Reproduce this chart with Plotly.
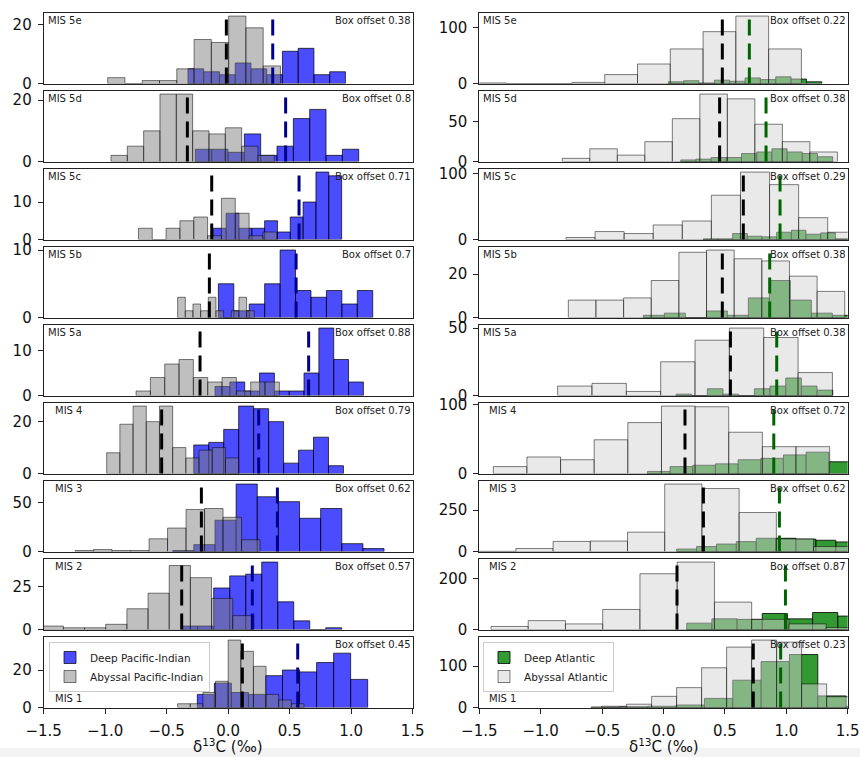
import plotly.graph_objects as go

# ---------------- data ----------------
stages = ["MIS 5e", "MIS 5d", "MIS 5c", "MIS 5b", "MIS 5a", "MIS 4", "MIS 3", "MIS 2", "MIS 1"]
pi_offsets = ["0.38", "0.8", "0.71", "0.7", "0.88", "0.79", "0.62", "0.57", "0.45"]
atl_offsets = ["0.22", "0.38", "0.29", "0.38", "0.38", "0.72", "0.62", "0.87", "0.23"]

# Deep Pacific-Indian histograms: first bin edge, bin width, counts
pi_deep_start = [-0.327, -0.267, -0.121, -0.080, -0.107, -0.280, -0.451, -0.378, -0.251]
pi_deep_width = [0.128, 0.1328, 0.1043, 0.1255, 0.1206, 0.1217, 0.1718, 0.1301, 0.1385]
pi_deep_counts = [
    [5, 4, 3, 7, 5, 3, 11, 12, 3, 4],
    [4, 4, 3, 9, 2, 5, 14, 17, 2, 4],
    [3, 7, 3, 3, 5, 2, 6, 10, 18, 17],
    [5, 1, 2, 5, 10, 4, 3, 4, 2, 4],
    [2, 3, 1, 5, 1, 1, 5, 15, 8, 3],
    [11, 12, 17, 26, 25, 20, 4, 9, 14, 3],
    [1, 7, 32, 69, 56, 51, 34, 44, 8, 3],
    [2, 2, 24, 31, 32, 39, 16, 5, 0, 1],
    [7, 13, 8, 7, 17, 20, 19, 24, 29, 15],
]
# Abyssal Pacific-Indian histograms
pi_aby_start = [-0.980, -0.953, -0.730, -0.411, -0.749, -0.988, -1.245, -1.512, -0.411]
pi_aby_width = [0.1405, 0.1328, 0.1125, 0.0623, 0.1165, 0.1073, 0.1504, 0.1721, 0.1027]
pi_aby_counts = [
    [2, 0, 1, 1, 5, 15, 14, 23, 19, 6],
    [2, 5, 10, 22, 22, 10, 9, 11, 5, 2],
    [3, 0, 3, 5, 6, 1, 11, 7, 1, 2],
    [3, 1, 2, 1, 3, 1, 0, 1, 3, 1],
    [1, 4, 7, 8, 4, 3, 4, 1, 3, 3],
    [8, 19, 26, 20, 26, 10, 6, 9, 10, 6],
    [1, 2, 1, 1, 13, 24, 43, 44, 35, 12],
    [2, 1, 1, 3, 12, 21, 37, 30, 18, 8],
    [2, 2, 8, 14, 36, 30, 22, 7, 4, 2],
]
pi_deep_mean = [0.362, 0.467, 0.576, 0.552, 0.654, 0.248, 0.400, 0.196, 0.565]
pi_aby_mean = [-0.015, -0.332, -0.134, -0.153, -0.229, -0.541, -0.218, -0.378, 0.115]

# Deep Atlantic histograms
atl_deep_start = [0.039, 0.140, 0.324, -0.164, 0.102, -0.131, 0.107, 0.189, -0.590]
atl_deep_width = [0.125, 0.1238, 0.1195, 0.171, 0.1276, 0.1846, 0.162, 0.205, 0.2308]
atl_deep_counts = [
    [3, 5, 1, 6, 4, 10, 7, 12, 8, 3],
    [2, 3, 5, 5, 10, 12, 16, 12, 10, 6],
    [1, 1, 9, 5, 4, 11, 14, 8, 10, 1],
    [1, 2, 0, 3, 1, 9, 17, 8, 2, 1],
    [1, 0, 5, 1, 0, 5, 7, 13, 7, 4],
    [3, 10, 12, 14, 20, 22, 27, 31, 17],
    [15, 30, 45, 60, 80, 80, 75, 68, 58],
    [25, 42, 40, 63, 42, 67, 53],
    [1, 2, 3, 6, 22, 66, 111, 128, 28, 3],
]
# Abyssal Atlantic histograms
atl_aby_start = [-1.546, -0.824, -0.794, -0.775, -0.862, -1.386, -1.505, -1.405, -0.504]
atl_aby_width = [0.2669, 0.224, 0.2368, 0.2251, 0.2797, 0.2739, 0.303, 0.3033, 0.2036]
atl_aby_counts = [
    [1, 0, 0, 2, 16, 35, 62, 93, 121, 62],
    [4, 16, 8, 25, 54, 85, 79, 47, 25, 12],
    [3, 12, 9, 22, 28, 67, 102, 83, 33, 11],
    [8, 8, 9, 17, 30, 31, 27, 26, 19, 12],
    [7, 9, 3, 25, 41, 50, 43, 17],
    [10, 24, 20, 49, 74, 98, 97, 60, 39, 39],
    [1, 18, 61, 63, 117, 408, 381, 236, 76, 30],
    [12, 35, 22, 79, 220, 266, 108, 40, 22, 8],
    [3, 8, 27, 48, 96, 146, 163, 158, 57, 26],
]
atl_deep_mean = [0.699, 0.835, 0.949, 0.865, 0.922, 0.898, 0.944, 0.993, 0.954]
atl_aby_mean = [0.479, 0.457, 0.650, 0.479, 0.545, 0.175, 0.325, 0.110, 0.731]

pi_yticks = [[0, 20], [0, 20], [0, 10], [0, 10], [0, 10], [0, 20], [0, 50], [0, 25], [0, 20]]
atl_yticks = [[0, 100], [0, 50], [0, 100], [0, 20], [0, 50], [0, 100], [0, 250], [0, 200], [0, 100]]

x_ticks = [-1.5, -1.0, -0.5, 0.0, 0.5, 1.0, 1.5]
x_ticktext = ["\u22121.5", "\u22121.0", "\u22120.5", "0.0", "0.5", "1.0", "1.5"]

# ---------------- layout geometry ----------------
W, H = 860, 757
col_x = [(43.7, 412.7), (479.3, 847.7)]
row_top0, row_pitch, row_h = 12.7, 78.0, 70.8
FONT = "DejaVu Sans"

fig = go.Figure()
layout = dict(
    width=W, height=H, autosize=False,
    margin=dict(l=0, r=0, t=0, b=0, autoexpand=False),
    paper_bgcolor="white", plot_bgcolor="white",
    barmode="overlay", font=dict(family=FONT, color="black"),
    showlegend=True,
)
shapes = []
annotations = []

cols = [
    dict(deep_start=pi_deep_start, deep_width=pi_deep_width, deep_counts=pi_deep_counts,
         aby_start=pi_aby_start, aby_width=pi_aby_width, aby_counts=pi_aby_counts,
         deep_mean=pi_deep_mean, aby_mean=pi_aby_mean, offsets=pi_offsets, yticks=pi_yticks,
         deep_fill="rgba(0,0,255,0.7)", deep_line="rgba(0,0,0,0.7)",
         aby_fill="rgba(128,128,128,0.5)", aby_line="rgba(0,0,0,0.5)",
         mean_color="#00008b", deep_name="Deep Pacific-Indian", aby_name="Abyssal Pacific-Indian",
         legend="legend", mis_x=[0.006, 0.006, 0.006, 0.006, 0.006, 0.024, 0.024, 0.024, 0.024]),
    dict(deep_start=atl_deep_start, deep_width=atl_deep_width, deep_counts=atl_deep_counts,
         aby_start=atl_aby_start, aby_width=atl_aby_width, aby_counts=atl_aby_counts,
         deep_mean=atl_deep_mean, aby_mean=atl_aby_mean, offsets=atl_offsets, yticks=atl_yticks,
         deep_fill="rgba(0,128,0,0.8)", deep_line="rgba(0,0,0,0.8)",
         aby_fill="rgba(211,211,211,0.5)", aby_line="rgba(0,0,0,0.5)",
         mean_color="#006400", deep_name="Deep Atlantic", aby_name="Abyssal Atlantic",
         legend="legend2", mis_x=[0.004, 0.004, 0.004, 0.004, 0.004, 0.021, 0.021, 0.021, 0.021]),
]

for r in range(9):
    top = row_top0 + row_pitch * r
    bot = top + row_h
    ydom = [1 - bot / H, 1 - top / H]
    for c in range(2):
        cd = cols[c]
        k = r * 2 + c + 1
        xa = "x" if k == 1 else f"x{k}"
        ya = "y" if k == 1 else f"y{k}"
        xkey = "xaxis" if k == 1 else f"xaxis{k}"
        ykey = "yaxis" if k == 1 else f"yaxis{k}"
        last = (r == 8)

        dc = cd["deep_counts"][r]
        ac = cd["aby_counts"][r]
        dx = [cd["deep_start"][r] + cd["deep_width"][r] * (i + 0.5) for i in range(len(dc))]
        ax_ = [cd["aby_start"][r] + cd["aby_width"][r] * (i + 0.5) for i in range(len(ac))]

        fig.add_trace(go.Bar(
            x=dx, y=dc, width=[cd["deep_width"][r]] * len(dc), xaxis=xa, yaxis=ya,
            marker=dict(color=cd["deep_fill"], line=dict(color=cd["deep_line"], width=1)),
            name=cd["deep_name"], showlegend=last, legend=cd["legend"], hoverinfo="skip"))
        fig.add_trace(go.Bar(
            x=ax_, y=ac, width=[cd["aby_width"][r]] * len(ac), xaxis=xa, yaxis=ya,
            marker=dict(color=cd["aby_fill"], line=dict(color=cd["aby_line"], width=1)),
            name=cd["aby_name"], showlegend=last, legend=cd["legend"], hoverinfo="skip"))

        ymax = 1.05 * max(max(dc), max(ac))
        x0, x1 = col_x[c]
        layout[xkey] = dict(
            domain=[x0 / W, x1 / W], range=[-1.5, 1.5], anchor=ya, automargin=False,
            showline=True, mirror=True, linecolor="#222", linewidth=1,
            showgrid=False, zeroline=False, fixedrange=True,
            tickmode="array", tickvals=x_ticks, ticktext=x_ticktext,
            ticks="outside" if last else "", ticklen=5, tickwidth=1, tickcolor="#222",
            showticklabels=last, tickfont=dict(size=15, family=FONT, color="#111"),
            ticklabelstandoff=4,
        )
        layout[ykey] = dict(
            domain=ydom, range=[0, ymax], anchor=xa, automargin=False,
            showline=True, mirror=True, linecolor="#222", linewidth=1,
            showgrid=False, zeroline=False, fixedrange=True,
            tickmode="array", tickvals=cd["yticks"][r],
            ticks="outside", ticklen=5, tickwidth=1, tickcolor="#222",
            tickfont=dict(size=15, family=FONT, color="#111"),
            ticklabelstandoff=3,
        )

        # mean lines
        for mval, colr in ((cd["aby_mean"][r], "black"), (cd["deep_mean"][r], cd["mean_color"])):
            shapes.append(dict(type="line", xref=xa, yref=f"{ya} domain",
                               x0=mval, x1=mval, y0=0, y1=1,
                               line=dict(color=colr, width=3, dash="16px,8px"), layer="above"))

        # texts
        if last:
            annotations.append(dict(text=stages[r], xref=f"{xa} domain", yref=f"{ya} domain",
                                    x=cd["mis_x"][r], y=0.02, xanchor="left", yanchor="bottom",
                                    showarrow=False, font=dict(size=10, family=FONT, color="#222")))
        else:
            annotations.append(dict(text=stages[r], xref=f"{xa} domain", yref=f"{ya} domain",
                                    x=cd["mis_x"][r], y=1.0, xanchor="left", yanchor="top",
                                    showarrow=False, font=dict(size=10, family=FONT, color="#222")))
        annotations.append(dict(text=f"Box offset {cd['offsets'][r]}", xref=f"{xa} domain",
                                yref=f"{ya} domain", x=1.0, y=1.0, xanchor="right", yanchor="top",
                                showarrow=False, font=dict(size=10, family=FONT, color="#222")))

# x axis labels
for c in range(2):
    x0, x1 = col_x[c]
    annotations.append(dict(text="\u03b4<sup>13</sup>C (\u2030)", xref="paper", yref="paper",
                            x=(x0 + x1) / 2 / W, y=1 - 746 / H, xanchor="center", yanchor="middle",
                            showarrow=False, font=dict(size=15, family=FONT, color="#111")))

# faint band at the bottom of the image
shapes.append(dict(type="rect", xref="paper", yref="paper", x0=0, x1=1, y0=0, y1=9 / H,
                   fillcolor="#f3f3f3", line=dict(width=0), layer="below"))

leg_common = dict(xanchor="left", yanchor="top", bgcolor="rgba(255,255,255,0.85)",
                  bordercolor="#cccccc", borderwidth=1, font=dict(size=10.5, family=FONT, color="#222"),
                  tracegroupgap=0, traceorder="normal")
layout["legend"] = dict(x=49 / W, y=1 - 642 / H, **leg_common)
layout["legend2"] = dict(x=483 / W, y=1 - 642 / H, **leg_common)
layout["shapes"] = shapes
layout["annotations"] = annotations

fig.update_layout(**layout)
fig.write_html("out.html", config={"displayModeBar": False},
               post_script="document.body.style.margin='0';document.body.style.padding='0';")
